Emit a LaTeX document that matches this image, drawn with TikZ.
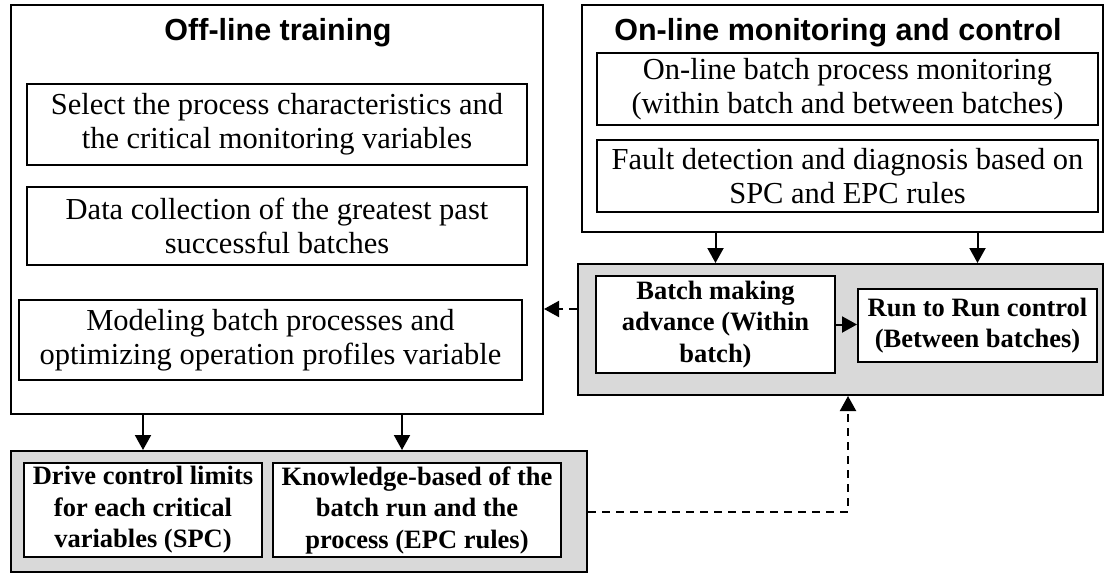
\documentclass[tikz,border=0pt]{standalone}
\usepackage{fontspec}
\setmainfont{Liberation Serif}
\newfontfamily\headfont{Liberation Sans}
\usetikzlibrary{positioning,arrows.meta}
\definecolor{groupgray}{HTML}{D9D9D9}

\begin{document}
\begin{tikzpicture}[x=1pt, y=-1pt, line width=2pt,
  frame/.style={draw, inner sep=0pt},
  plain/.style={frame, fill=white, align=center,
    font=\fontsize{30.5}{34}\selectfont},
  strong/.style={frame, fill=white, align=center,
    font=\fontsize{26.5}{31.5}\selectfont\bfseries},
  group/.style={frame, fill=groupgray},
  heading/.style={inner sep=0pt, font=\headfont\fontsize{30.5}{34}\selectfont\bfseries},
  arr/.style={-{Triangle[width=16pt,length=15pt]}},
  dasharr/.style={arr, dash pattern=on 8pt off 6pt}]
  \useasboundingbox (0,0) rectangle (1105,578);

  % off-line side
  \node[frame, minimum width=532pt, minimum height=409pt] (offline) at (277,209.5) {};
  \node[heading] (offtitle) at (278,33) {Off-line training};
  \node[plain, minimum width=500pt, minimum height=81pt] (select) at (277,124.5)
    {Select the process characteristics and\\the critical monitoring variables};
  \node[plain, minimum width=500pt, minimum height=78pt] (collect) at (277,226)
    {Data collection of the greatest past\\successful batches};
  \node[plain, minimum width=503pt, minimum height=80pt] (model) at (270.5,340)
    {Modeling batch processes and\\optimizing operation profiles variable};

  \node[group, minimum width=576pt, minimum height=121pt] (offgroup) at (299,511.5) {};
  \node[strong, minimum width=238pt, minimum height=94pt] (limits) at (143,510)
    {Drive control limits\\for each critical\\variables (SPC)};
  \node[strong, minimum width=288pt, minimum height=94pt] (knowledge) at (417,510)
    {Knowledge-based of the\\batch run and the\\process (EPC rules)};

  % on-line side
  \node[frame, minimum width=521pt, minimum height=227pt] (online) at (842.5,118.5) {};
  \node[heading] (ontitle) at (838,33) {On-line monitoring and control};
  \node[plain, minimum width=501pt, minimum height=72pt] (monitor) at (847.5,89)
    {On-line batch process monitoring\\(within batch and between batches)};
  \node[plain, minimum width=501pt, minimum height=72pt] (fault) at (847.5,176)
    {Fault detection and diagnosis based on\\SPC and EPC rules};

  \node[group, minimum width=525pt, minimum height=131pt] (ongroup) at (840.5,329.5) {};
  \node[strong, minimum width=239pt, minimum height=97pt] (advance) at (715.5,324.5)
    {Batch making\\advance (Within\\batch)};
  \node[strong, minimum width=239pt, minimum height=73pt] (runrun) at (977.5,325.5)
    {Run to Run control\\(Between batches)};

  \coordinate (dropR) at (402,0);
  \coordinate (backY) at (0,309);
  \coordinate (riseX) at (848,0);

  % connectors
  \draw[arr] (limits |- offline.south) -- (limits |- offgroup.north);
  \draw[arr] (dropR |- offline.south) -- (dropR |- offgroup.north);
  \draw[arr] (advance |- online.south) -- (advance |- ongroup.north);
  \draw[arr] (runrun |- online.south) -- (runrun |- ongroup.north);
  \draw[arr] (advance.east) -- (advance.east -| runrun.west);
  \draw[dasharr] (ongroup.west |- backY) -- (offline.east |- backY);
  \draw[dasharr] (offgroup.east) -| (riseX |- ongroup.south);
\end{tikzpicture}
\end{document}
